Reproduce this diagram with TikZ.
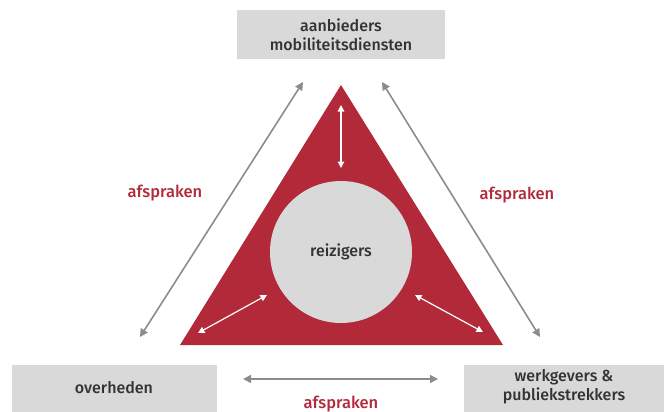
\documentclass[tikz,border=0pt]{standalone}
\usepackage{fontspec}
\setmainfont{Fira Sans}[UprightFont=* Medium]
\usetikzlibrary{arrows.meta}
\definecolor{rood}{HTML}{B22A3A}
\definecolor{boxgrijs}{HTML}{D9D9D9}
\definecolor{pijlgrijs}{HTML}{8C8C8C}
\definecolor{tekst}{HTML}{333333}
\begin{document}
\begin{tikzpicture}[x=1pt,y=-1pt,
  box/.style={fill=boxgrijs,inner sep=0pt,text=tekst,font=\fontsize{16}{19}\selectfont,align=center},
  txt/.style={text=tekst,font=\fontsize{16}{19}\selectfont,align=center},
  label/.style={text=rood,font=\fontsize{16.5}{18}\selectfont},
  greyarrow/.style={draw=pijlgrijs,line width=1.6pt,{Triangle[length=8pt,width=8pt]}-{Triangle[length=8pt,width=8pt]}},
  whitearrow/.style={draw=white,line width=1.2pt,{Triangle[length=6.5pt,width=6.5pt]}-{Triangle[length=6.5pt,width=6.5pt]}}]
\useasboundingbox (0,0) rectangle (664,412);
% boxes
\node[box,minimum width=208pt,minimum height=49pt] (top) at (341,34.5) {aanbieders\\mobiliteitsdiensten};
\node[box,minimum width=205pt,minimum height=50pt,anchor=north west] (left) at (12,365) {};
\node[txt] (lefttxt) at (114,388) {overheden};
\node[box,minimum width=205pt,minimum height=50pt,anchor=north west] (right) at (464,365) {};
\node[txt] (righttxt) at (564,387) {werkgevers \&\\publiekstrekkers};
% triangle
\fill[rood] (180,345) -- (503,345) -- (341,85) -- cycle;
\node[circle,fill=boxgrijs,minimum size=142pt,inner sep=0pt,text=tekst,font=\fontsize{16}{19}\selectfont] (reiz) at (341,252) {reizigers};
% white arrows
\coordinate (wt1) at (341,105); \coordinate (wt2) at (341,168);
\coordinate (wl1) at (198,333); \coordinate (wl2) at (267,295);
\coordinate (wr1) at (415,295); \coordinate (wr2) at (483,332);
\draw[whitearrow] (wt1) -- (wt2);
\draw[whitearrow] (wl1) -- (wl2);
\draw[whitearrow] (wr1) -- (wr2);
% grey arrows
\coordinate (gl1) at (140,337); \coordinate (gl2) at (303,82);
\coordinate (gr1) at (382,82); \coordinate (gr2) at (540,337);
\coordinate (gb1) at (243,379); \coordinate (gb2) at (438,379);
\draw[greyarrow] (gl1) -- (gl2);
\draw[greyarrow] (gr1) -- (gr2);
\draw[greyarrow] (gb1) -- (gb2);
% labels
\node[label] (la) at (165,193) {afspraken};
\node[label] (lb) at (517,195) {afspraken};
\node[label] (lc) at (341,404) {afspraken};
\end{tikzpicture}
\end{document}
